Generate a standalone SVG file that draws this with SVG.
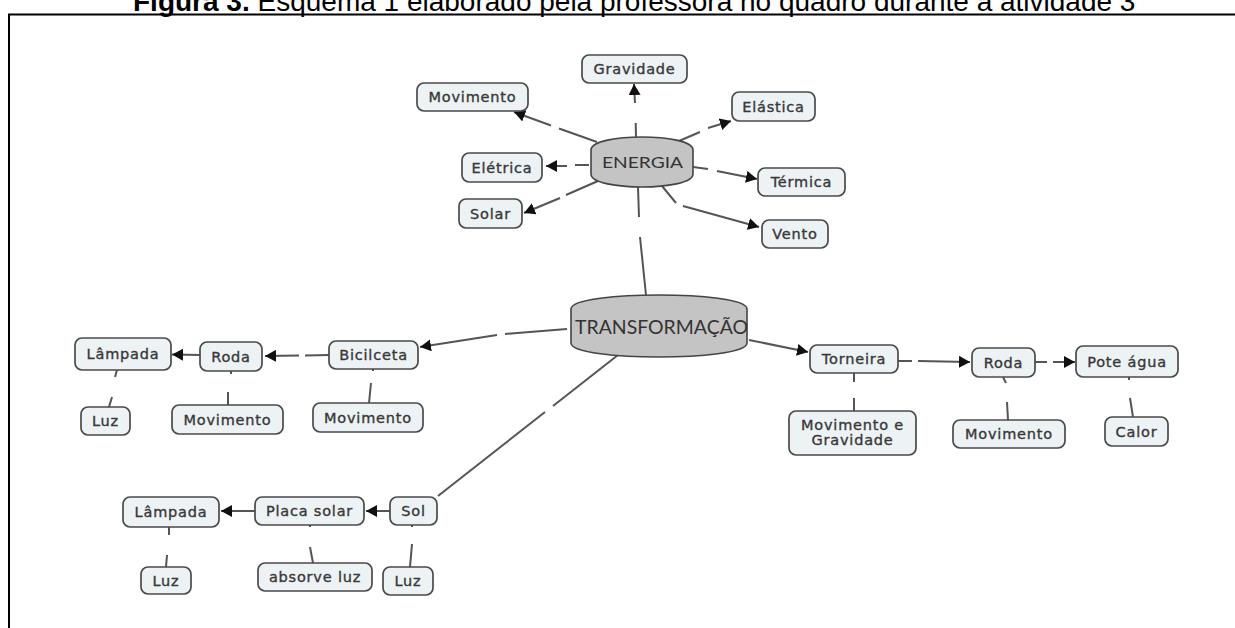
<svg xmlns="http://www.w3.org/2000/svg" width="1235" height="628" viewBox="0 0 1235 628">
<style>
.box{fill:#edf2f5;stroke:#4a4a4a;stroke-width:1.7}
.lbl{font-family:"DejaVu Sans",Verdana,sans-serif;font-size:14.5px;letter-spacing:0.8px;fill:#383838;stroke:#383838;stroke-width:0.35;text-anchor:middle}
.hub{fill:#c4c4c4;stroke:#444;stroke-width:1.6}
.hubt{font-family:Lato,"Liberation Sans",sans-serif;fill:#333}
.con{fill:none;stroke:#555;stroke-width:2}
.arr{marker-end:url(#ah)}
</style>
<defs>
<marker id="ah" markerUnits="userSpaceOnUse" markerWidth="12" markerHeight="12" refX="11" refY="6" orient="auto">
<path d="M0,0 L11,6 L0,12 Z" fill="#111"/>
</marker>
</defs>
<rect width="1235" height="628" fill="#fff"/>
<text x="133" y="11" font-family="Liberation Sans,Arial,sans-serif" font-size="28" fill="#000"><tspan font-weight="bold">Figura 3.</tspan> Esquema 1 elaborado pela professora no quadro durante a atividade 3</text>
<path d="M9,628 V14.5 H1235" fill="none" stroke="#000" stroke-width="2"/>

<g id="connectors">
<path class="con arr" d="M636,137 L635.7,123 M635,103 L634,84"/>
<path class="con arr" d="M597,142 L559,128.5 M551,125.5 L514,112"/>
<path class="con arr" d="M679,141 L700,132 M708,128 L731,121"/>
<path class="con arr" d="M589,165 L575,165 M567,166 L546,166"/>
<path class="con arr" d="M693,167 L708,169 M717,171 L757,179"/>
<path class="con arr" d="M598,181 L566,195 M560,198 L524,213"/>
<path class="con arr" d="M662,186 L676,203 M683,206 L759,227"/>
<path class="con" d="M638,187 L639,217 M640,237 L646,295"/>
<path class="con arr" d="M567,329 L505,334 M497,335 L420,347"/>
<path class="con arr" d="M749,340 L808,352"/>
<path class="con" d="M618,355 L553,406 M545,412 L438,496"/>
<path class="con arr" d="M329,355 L305,355.5 M299,355.5 L265,356"/>
<path class="con arr" d="M200,355 L172,354.5"/>
<path class="con" d="M117,370 L115,377 M112,397 L109,407"/>
<path class="con" d="M231,371 L231,374 M228,392 L228,405"/>
<path class="con" d="M373,369 L373,371 M371,383 L369,403"/>
<path class="con arr" d="M898,361 L912,361 M918,361 L970,362"/>
<path class="con arr" d="M1035,362 L1047,362 M1053,362 L1075,362"/>
<path class="con" d="M854,373 L854,382 M854,398 L854,411"/>
<path class="con" d="M1003,377 L1006,383 M1007,402 L1008,420"/>
<path class="con" d="M1129,377 L1129,380 M1130,398 L1133,417"/>
<path class="con arr" d="M390,511 L366,511"/>
<path class="con arr" d="M255,511 L221,511"/>
<path class="con" d="M169,527 L169,535 M167,555 L166,567"/>
<path class="con" d="M310,525 L310,527 M310,547 L313,563"/>
<path class="con" d="M412,525 L412,527 M412,544 L410,567"/>
</g>

<g id="energia">
<path class="hub" d="M591,150 C591,141 618,137 642,137 C666,137 693,141 693,150 L693,174 C693,183 666,187 642,187 C618,187 591,183 591,174 Z"/>
<text class="hubt" x="602" y="167.5" font-size="16" textLength="81" lengthAdjust="spacingAndGlyphs">ENERGIA</text>
</g>
<g id="transformacao">
<path class="hub" d="M571,309 C571,299 620,295 659,295 C698,295 747,299 747,309 L747,343 C747,353 698,357 659,357 C620,357 571,353 571,343 Z"/>
<text class="hubt" x="575" y="334" font-size="19.5" textLength="173" lengthAdjust="spacingAndGlyphs">TRANSFORMAÇÃO</text>
</g>

<g id="gravidade"><rect class="box" x="582" y="55" width="105" height="28" rx="7"/><text class="lbl" x="634.5" y="74">Gravidade</text></g>
<g id="movimento-e"><rect class="box" x="417" y="83" width="111" height="28" rx="7"/><text class="lbl" x="472.5" y="102">Movimento</text></g>
<g id="elastica"><rect class="box" x="732" y="92" width="83" height="29" rx="7"/><text class="lbl" x="773.5" y="111.5">Elástica</text></g>
<g id="eletrica"><rect class="box" x="462" y="153" width="80" height="29" rx="7"/><text class="lbl" x="502" y="172.5">Elétrica</text></g>
<g id="termica"><rect class="box" x="758" y="168" width="87" height="28" rx="7"/><text class="lbl" x="801.5" y="187">Térmica</text></g>
<g id="solar"><rect class="box" x="459" y="199" width="63" height="29" rx="7"/><text class="lbl" x="490.5" y="218.5">Solar</text></g>
<g id="vento"><rect class="box" x="762" y="220" width="66" height="28" rx="7"/><text class="lbl" x="795" y="239">Vento</text></g>

<g id="lampada1"><rect class="box" x="75" y="338" width="96" height="32" rx="7"/><text class="lbl" x="123" y="359">Lâmpada</text></g>
<g id="roda1"><rect class="box" x="200" y="342" width="62" height="29" rx="7"/><text class="lbl" x="231" y="361.5">Roda</text></g>
<g id="bicilceta"><rect class="box" x="329" y="341" width="89" height="28" rx="7"/><text class="lbl" x="373.5" y="360">Bicilceta</text></g>
<g id="luz1"><rect class="box" x="81" y="407" width="49" height="28" rx="7"/><text class="lbl" x="105.5" y="426">Luz</text></g>
<g id="movimento-roda1"><rect class="box" x="172" y="405" width="111" height="29" rx="7"/><text class="lbl" x="227.5" y="424.5">Movimento</text></g>
<g id="movimento-bic"><rect class="box" x="313" y="403" width="110" height="29" rx="7"/><text class="lbl" x="368" y="422.5">Movimento</text></g>

<g id="torneira"><rect class="box" x="810" y="345" width="88" height="28" rx="7"/><text class="lbl" x="854" y="364">Torneira</text></g>
<g id="roda2"><rect class="box" x="972" y="348" width="63" height="29" rx="7"/><text class="lbl" x="1003.5" y="367.5">Roda</text></g>
<g id="pote"><rect class="box" x="1076" y="346" width="102" height="31" rx="7"/><text class="lbl" x="1127" y="366.5">Pote água</text></g>
<g id="mov-grav"><rect class="box" x="789" y="411" width="127" height="44" rx="7"/><text class="lbl" x="852.5" y="429.5">Movimento e</text><text class="lbl" x="852.5" y="445">Gravidade</text></g>
<g id="movimento-roda2"><rect class="box" x="953" y="420" width="112" height="28" rx="7"/><text class="lbl" x="1009" y="439">Movimento</text></g>
<g id="calor"><rect class="box" x="1105" y="417" width="63" height="29" rx="7"/><text class="lbl" x="1136.5" y="436.5">Calor</text></g>

<g id="lampada2"><rect class="box" x="123" y="497" width="96" height="30" rx="7"/><text class="lbl" x="171" y="517">Lâmpada</text></g>
<g id="placa"><rect class="box" x="255" y="497" width="109" height="28" rx="7"/><text class="lbl" x="309.5" y="516">Placa solar</text></g>
<g id="sol"><rect class="box" x="390" y="497" width="47" height="28" rx="7"/><text class="lbl" x="413.5" y="516">Sol</text></g>
<g id="luz2"><rect class="box" x="141" y="567" width="50" height="27" rx="7"/><text class="lbl" x="166" y="585.5">Luz</text></g>
<g id="absorve"><rect class="box" x="258" y="563" width="114" height="28" rx="7"/><text class="lbl" x="315" y="582">absorve luz</text></g>
<g id="luz3"><rect class="box" x="383" y="567" width="50" height="28" rx="7"/><text class="lbl" x="408" y="586">Luz</text></g>
</svg>
